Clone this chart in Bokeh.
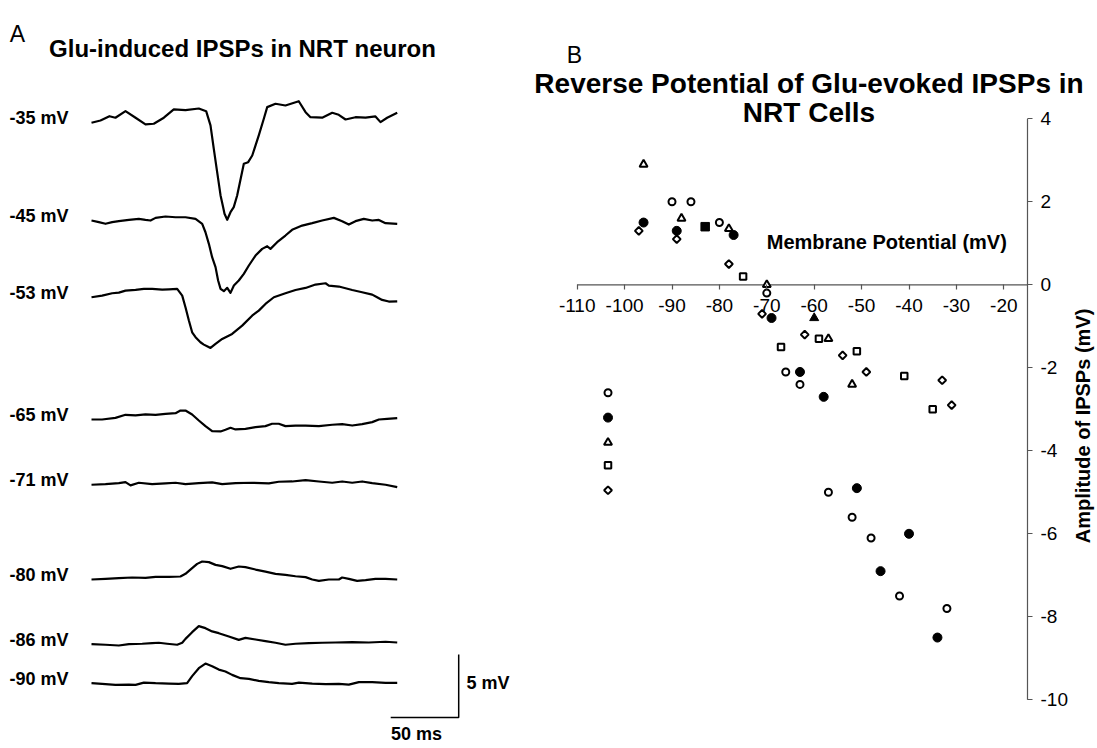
import math
from bokeh.plotting import figure
from bokeh.layouts import row
from bokeh.models import Range1d, FixedTicker
from bokeh.core.properties import value
from bokeh.embed import file_html
from bokeh.resources import INLINE

FONT = "Liberation Sans"

# ---------------- Panel A data: traces (time in ms, deflection in mV) ----------------
t_35 = [0, 6.6, 13.2, 17.6, 25.0, 32.4, 39.7, 45.8, 53.2, 60.5, 69.1, 78.9, 84.3, 87.5, 89.9, 92.4, 94.9,
        96.8, 97.8, 99.8, 102.2, 104.6, 107.1, 112.0, 115.2, 118.2, 123.0, 126.7, 129.2, 135.3, 142.6,
        152.4, 157.4, 161.0, 169.6, 177.0, 181.8, 186.8, 194.1, 201.5, 208.8, 212.5, 217.4, 224.8]
v_35 = [0, 0.18, 0.52, 0.40, 0.92, 0.40, -0.13, -0.08, 0.40, 1.06, 1.0, 1.13, 0.92, -0.21, -2.06, -3.92, -5.77,
        -6.70, -7.22, -7.70, -7.10, -6.70, -5.77, -3.25, -3.13, -2.60, -1.0, 0.32, 1.24, 1.51, 1.37,
        1.71, 0.84, 0.44, 0.40, 0.79, 0.63, 0.26, 0.44, 0.40, 0.50, 0.05, 0.40, 0.79]

t_45 = [0, 5.4, 10.3, 15.2, 20.1, 27.5, 34.8, 39.7, 43.4, 47.1, 54.4, 61.8, 69.1, 76.5, 81.4, 83.8, 86.3,
        88.7, 91.2, 93.1, 94.9, 97.3, 99.8, 102.2, 104.7, 108.3, 112.0, 115.7, 120.6, 125.5, 129.2, 131.6,
        136.5, 142.6, 147.5, 154.9, 162.3, 169.6, 178.2, 184.3, 189.2, 194.1, 200.2, 206.4, 211.3, 216.2, 224.8]
v_45 = [0, -0.13, -0.26, -0.13, -0.05, 0.05, 0.13, 0.05, 0, 0.21, 0.32, 0.26, 0.26, 0.13, -0.26, -0.93, -1.85,
        -2.91, -3.70, -4.76, -5.42, -5.61, -5.34, -5.74, -5.16, -4.76, -4.23, -3.57, -2.78, -2.25, -2.04, -2.25,
        -1.72, -1.19, -0.74, -0.40, -0.21, 0, 0.21, -0.05, -0.32, -0.05, 0.13, 0, 0.05, -0.21, -0.26]

t_53 = [0, 7.8, 15.2, 20.1, 25.0, 32.4, 38.5, 44.6, 52.0, 56.9, 63.0, 66.7, 69.1, 71.6, 74.0, 76.5, 80.1,
        82.6, 85.0, 87.5, 91.2, 96.1, 103.4, 110.8, 118.1, 123.0, 127.9, 134.1, 142.6, 150.0, 157.4, 164.7,
        172.1, 174.5, 181.9, 191.7, 199.0, 206.4, 210.0, 213.7, 218.6, 224.8]
v_53 = [0, 0.13, 0.32, 0.37, 0.53, 0.58, 0.66, 0.66, 0.61, 0.63, 0.66, 0.13, -0.79, -1.85, -2.78, -3.17, -3.57,
        -3.76, -3.89, -4.02, -3.70, -3.31, -2.91, -2.25, -1.46, -1.06, -0.53, 0, 0.32, 0.58, 0.74, 1.01,
        1.11, 0.93, 0.85, 0.58, 0.40, 0.21, 0, -0.21, -0.34, -0.32]

t_65 = [0, 7.8, 17.6, 25.0, 32.4, 39.7, 47.1, 54.4, 61.8, 65.4, 69.1, 74.0, 78.9, 83.8, 88.7, 94.9, 98.5,
        102.2, 105.9, 113.2, 120.6, 127.9, 132.8, 137.7, 142.6, 150.0, 157.4, 167.2, 177.0, 184.3, 191.7,
        199.0, 206.4, 211.3, 217.4, 224.8]
v_65 = [0, 0, 0.13, 0.37, 0.32, 0.40, 0.37, 0.45, 0.50, 0.71, 0.71, 0.40, -0.08, -0.53, -0.93, -0.95, -0.82,
        -0.66, -0.79, -0.74, -0.61, -0.53, -0.34, -0.34, -0.53, -0.48, -0.48, -0.53, -0.42, -0.37, -0.48,
        -0.37, -0.21, 0, 0.05, 0.11]

t_71 = [0, 10.3, 20.1, 25.0, 28.7, 34.8, 44.6, 54.4, 61.8, 69.1, 78.9, 88.7, 96.1, 105.9, 118.1, 130.4,
        137.7, 147.5, 157.4, 167.2, 177.0, 184.3, 191.7, 199.0, 206.4, 216.2, 224.8]
v_71 = [0, 0.05, 0.13, 0.21, -0.05, 0.16, 0.05, 0.11, 0.16, 0.05, 0.13, 0.19, 0.05, 0.13, 0.16, 0.11,
        0.24, 0.26, 0.37, 0.26, 0.16, 0.26, 0.16, 0.26, 0.13, 0, -0.19]

t_80 = [0, 10.3, 20.1, 29.9, 39.7, 47.1, 56.9, 65.4, 69.1, 74.0, 77.7, 81.4, 86.3, 91.2, 96.1, 102.2, 108.3,
        113.2, 120.6, 127.9, 135.3, 142.6, 150.0, 157.4, 162.3, 167.2, 174.5, 181.9, 184.3, 189.2, 195.3,
        201.5, 208.8, 216.2, 224.8]
v_80 = [0, 0.05, 0.11, 0.16, 0.13, 0.21, 0.21, 0.24, 0.45, 0.90, 1.24, 1.43, 1.38, 1.16, 1.06, 0.85, 1.03,
        0.98, 0.79, 0.63, 0.45, 0.37, 0.26, 0.19, 0, -0.11, 0, 0, 0.16, 0.05, -0.11,
        -0.05, 0.05, 0.05, 0]

t_86 = [0, 10.3, 20.1, 27.5, 37.3, 44.6, 49.5, 55.6, 63.0, 66.7, 69.1, 74.0, 78.9, 83.8, 88.7, 93.6, 101.0,
        108.3, 113.2, 120.6, 127.9, 135.3, 142.6, 150.0, 159.8, 169.6, 179.4, 191.7, 203.9, 216.2, 224.8]
v_86 = [0, -0.05, -0.11, 0, 0.03, 0.08, 0.11, 0.03, -0.05, 0.11, 0.42, 0.95, 1.43, 1.27, 1.01, 0.87, 0.61,
        0.34, 0.50, 0.37, 0.24, 0.11, -0.05, 0.03, 0.08, 0.11, 0.13, 0.16, 0.13, 0.19, 0.13]

t_90 = [0, 7.8, 17.6, 27.5, 32.4, 38.5, 47.1, 56.9, 64.2, 70.3, 74.0, 78.9, 83.8, 88.7, 93.6, 98.5, 103.4,
        109.6, 115.7, 123.0, 130.4, 137.7, 147.5, 152.5, 162.3, 172.1, 181.9, 189.2, 196.6, 206.4, 216.2, 224.8]
v_90 = [0, -0.05, -0.13, -0.11, -0.13, 0.05, 0, -0.03, -0.05, 0, 0.56, 1.19, 1.56, 1.35, 1.08, 0.93, 0.66,
        0.40, 0.34, 0.19, 0.08, 0, -0.05, 0.05, -0.03, -0.08, -0.05, -0.11, 0.08, 0.08, 0.03, 0.03]

trace_labels = ["-35 mV", "-45 mV", "-53 mV", "-65 mV", "-71 mV", "-80 mV", "-86 mV", "-90 mV"]
trace_t = [t_35, t_45, t_53, t_65, t_71, t_80, t_86, t_90]
trace_v = [v_35, v_45, v_53, v_65, v_71, v_80, v_86, v_90]
# vertical stacking of the traces on the page (layout, mV display units)
trace_offsets = [44.48, 36.72, 30.63, 20.93, 15.75, 8.23, 3.10, 0.0]

scale_ms = 50
scale_mv = 5

# ---------------- Panel B data ----------------
oc_x = [-90, -86, -80, -70, -66, -63, -57, -52, -48, -42, -32]
oc_y = [2.0, 2.0, 1.5, -0.2, -2.1, -2.4, -5.0, -5.6, -6.1, -7.5, -7.8]
fc_x = [-96, -89, -77, -69, -63, -58, -51, -46, -40, -34]
fc_y = [1.5, 1.3, 1.2, -0.8, -2.1, -2.7, -4.9, -6.9, -6.0, -8.5]
ot_x = [-96, -88, -78, -70, -57, -52]
ot_y = [2.9, 1.6, 1.35, 0.0, -1.3, -2.4]
ft_x = [-60]
ft_y = [-0.8]
os_x = [-75, -67, -59, -51, -41, -35]
os_y = [0.2, -1.5, -1.3, -1.6, -2.2, -3.0]
fs_x = [-83]
fs_y = [1.4]
od_x = [-97, -89, -78, -71, -62, -54, -49, -33, -31]
od_y = [1.3, 1.1, 0.5, -0.7, -1.2, -1.7, -2.1, -2.3, -2.9]
# unlabeled key column
key_x = -103.5
key_y = [-2.6, -3.2, -3.8, -4.35, -4.95]

x_ticks = [-110, -100, -90, -80, -70, -60, -50, -40, -30, -20]
y_ticks = [-10, -8, -6, -4, -2, 0, 2, 4]
x_axis_end = -15

H = 746

# ================= Panel A =================
WA = 530
pA = figure(width=WA, height=H, x_range=Range1d(-91 / 1.36, (WA - 91) / 1.36),
            y_range=Range1d((682.7 - H) / 12.6, 682.7 / 12.6),
            toolbar_location=None, output_backend="svg", x_axis_location=None, y_axis_location=None,
            min_border=0, outline_line_color=None)
pA.grid.visible = False

for ts, vs, off in zip(trace_t, trace_v, trace_offsets):
    pA.line(ts, [v + off for v in vs], line_color="black", line_width=2.2, line_join="round")

pA.text(x=[-60.3] * len(trace_labels), y=[o + 0.35 for o in trace_offsets], text=trace_labels,
        text_font=value(FONT), text_font_size="18px", text_font_style="bold",
        text_baseline="middle", text_align="left", text_color="black")

# scale bar
sb_t, sb_v = 270, -2.72
pA.line([sb_t - scale_ms, sb_t, sb_t], [sb_v, sb_v, sb_v + scale_mv], line_color="black", line_width=1.5)
pA.text(x=[sb_t + 5.7], y=[sb_v + 2.77], text=["%d mV" % scale_mv], text_font=value(FONT),
        text_font_size="18px", text_font_style="bold", text_baseline="middle", text_align="left")
pA.text(x=[sb_t - 31], y=[-4.05], text=["%d ms" % scale_ms], text_font=value(FONT),
        text_font_size="18px", text_font_style="bold", text_baseline="middle", text_align="center")

pA.text(x=[-54.4], y=[51.56], text=["A"], text_font=value(FONT), text_font_size="23px",
        text_baseline="middle", text_align="center")
pA.text(x=[111], y=[50.4], text=["Glu-induced IPSPs in NRT neuron"], text_font=value(FONT),
        text_font_size="24px", text_font_style="bold", text_baseline="middle", text_align="center")

# ================= Panel B =================
WB = 1095 - WA
XS, YS = 4.74, 41.5          # px per unit
X0PX, Y0PX = 576.7 - WA, 284.3   # pixel of x=-110 inside panel B, pixel of y=0
pB = figure(width=WB, height=H,
            x_range=Range1d(-110 - X0PX / XS, -110 + (WB - X0PX) / XS),
            y_range=Range1d(-(H - Y0PX) / YS, Y0PX / YS),
            x_axis_location="below", y_axis_location="right",
            toolbar_location=None, output_backend="svg", min_border=0, outline_line_color=None)
pB.grid.visible = False

pB.xaxis.fixed_location = 0
pB.yaxis.fixed_location = x_axis_end
pB.xaxis.ticker = FixedTicker(ticks=x_ticks)
pB.yaxis.ticker = FixedTicker(ticks=y_ticks)
pB.xaxis.major_label_overrides = {t: str(t) for t in x_ticks}
pB.yaxis.major_label_overrides = {t: str(t) for t in y_ticks}
for ax in (pB.xaxis[0], pB.yaxis[0]):
    ax.axis_line_color = None
    ax.major_tick_line_color = "#555555"
    ax.major_tick_line_width = 1.2
    ax.major_tick_in = 0
    ax.major_tick_out = 5
    ax.minor_tick_line_color = None
    ax.major_label_text_font = FONT
    ax.major_label_text_font_size = "19px"
    ax.major_label_text_color = "black"
pB.xaxis.major_label_standoff = 9
pB.yaxis.major_label_standoff = 8

# axis lines spanning only the plotted domain
pB.line([x_ticks[0], x_axis_end], [0, 0], line_color="#555555", line_width=1.2)
pB.line([x_axis_end, x_axis_end], [y_ticks[0], y_ticks[-1]], line_color="#555555", line_width=1.2)

ms = dict(line_color="black")
pB.scatter(oc_x, oc_y, marker="circle", size=7, fill_color="white", line_width=2, **ms)
pB.scatter(fc_x, fc_y, marker="circle", size=9, fill_color="black", line_width=1, **ms)
pB.scatter(ot_x, ot_y, marker="triangle", size=8, fill_color="white", line_width=2, **ms)
pB.scatter(ft_x, ft_y, marker="triangle", size=9, fill_color="black", line_width=1, **ms)
pB.scatter(os_x, os_y, marker="square", size=6.5, fill_color="white", line_width=2, **ms)
pB.scatter(fs_x, fs_y, marker="square", size=8.5, fill_color="black", line_width=1, **ms)
pB.scatter(od_x, od_y, marker="square", size=5.5, angle=math.pi / 4, fill_color="white", line_width=2, **ms)

pB.scatter([key_x], [key_y[0]], marker="circle", size=7, fill_color="white", line_width=2, **ms)
pB.scatter([key_x], [key_y[1]], marker="circle", size=9, fill_color="black", line_width=1, **ms)
pB.scatter([key_x], [key_y[2]], marker="triangle", size=8, fill_color="white", line_width=2, **ms)
pB.scatter([key_x], [key_y[3]], marker="square", size=6.5, fill_color="white", line_width=2, **ms)
pB.scatter([key_x], [key_y[4]], marker="square", size=5.5, angle=math.pi / 4, fill_color="white", line_width=2, **ms)

txt = dict(text_font=value(FONT), text_color="black", text_baseline="middle")
pB.text(x=[-70], y=[1.04], text=["Membrane Potential (mV)"], text_font_size="20px",
        text_font_style="bold", text_align="left", **txt)
pB.text(x=[-3.3], y=[-3.4], text=["Amplitude of IPSPs (mV)"], text_font_size="20px",
        text_font_style="bold", text_align="center", angle=math.pi / 2, **txt)
pB.text(x=[-61.1], y=[4.85], text=["Reverse Potential of Glu-evoked IPSPs in"], text_font_size="28px",
        text_font_style="bold", text_align="center", **txt)
pB.text(x=[-61.1], y=[4.15], text=["NRT Cells"], text_font_size="28px",
        text_font_style="bold", text_align="center", **txt)
pB.text(x=[-110.57], y=[5.53], text=["B"], text_font_size="23px", text_align="center", **txt)

layout = row(pA, pB)
open("out.html", "w").write(file_html(layout, INLINE))
